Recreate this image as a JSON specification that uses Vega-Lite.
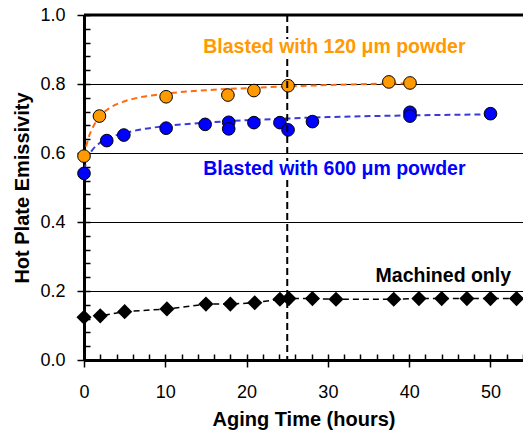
{
  "$schema": "https://vega.github.io/schema/vega-lite/v6.json",
  "width": 439,
  "height": 345,
  "autosize": {"type": "none"},
  "padding": {"left": 84, "top": 15, "right": 0, "bottom": 71},
  "background": "white",
  "config": {"view": {"stroke": null}, "font": "Liberation Sans"},
  "datasets": {
    "pts": [
      {"series": "120", "t": 0, "e": 0.591},
      {"series": "120", "t": 1.9, "e": 0.707},
      {"series": "120", "t": 10.1, "e": 0.763},
      {"series": "120", "t": 17.7, "e": 0.768},
      {"series": "120", "t": 20.9, "e": 0.781},
      {"series": "120", "t": 25.1, "e": 0.795},
      {"series": "120", "t": 37.5, "e": 0.806},
      {"series": "120", "t": 40.1, "e": 0.803},
      {"series": "600", "t": 0, "e": 0.541},
      {"series": "600", "t": 2.8, "e": 0.636},
      {"series": "600", "t": 4.9, "e": 0.652},
      {"series": "600", "t": 10.1, "e": 0.672},
      {"series": "600", "t": 14.9, "e": 0.683},
      {"series": "600", "t": 17.8, "e": 0.689},
      {"series": "600", "t": 17.8, "e": 0.67},
      {"series": "600", "t": 20.9, "e": 0.688},
      {"series": "600", "t": 24.1, "e": 0.688},
      {"series": "600", "t": 25.1, "e": 0.667},
      {"series": "600", "t": 28.1, "e": 0.691},
      {"series": "600", "t": 40.1, "e": 0.718},
      {"series": "600", "t": 40.1, "e": 0.707},
      {"series": "600", "t": 50, "e": 0.714}
    ],
    "mach": [
      {"t": 0, "e": 0.124},
      {"t": 2, "e": 0.128},
      {"t": 5, "e": 0.14},
      {"t": 10.2, "e": 0.148},
      {"t": 15, "e": 0.162},
      {"t": 18, "e": 0.162},
      {"t": 21, "e": 0.166},
      {"t": 24.1, "e": 0.176},
      {"t": 25.2, "e": 0.178},
      {"t": 28.1, "e": 0.178},
      {"t": 31, "e": 0.176},
      {"t": 38.1, "e": 0.176},
      {"t": 41.2, "e": 0.178},
      {"t": 44, "e": 0.178},
      {"t": 47.1, "e": 0.178},
      {"t": 50, "e": 0.178},
      {"t": 53.2, "e": 0.178}
    ],
    "fit120": [
      {"t": 0, "e": 0.59},
      {"t": 0.5, "e": 0.64},
      {"t": 1, "e": 0.67},
      {"t": 2, "e": 0.707},
      {"t": 3, "e": 0.728},
      {"t": 5, "e": 0.75},
      {"t": 7.5, "e": 0.764},
      {"t": 10, "e": 0.772},
      {"t": 15, "e": 0.782},
      {"t": 20, "e": 0.788},
      {"t": 25, "e": 0.793},
      {"t": 30, "e": 0.797},
      {"t": 35, "e": 0.8},
      {"t": 40, "e": 0.802}
    ],
    "fit600": [
      {"t": 0, "e": 0.55},
      {"t": 0.5, "e": 0.588},
      {"t": 1, "e": 0.608},
      {"t": 2, "e": 0.63},
      {"t": 3, "e": 0.643},
      {"t": 5, "e": 0.658},
      {"t": 7.5, "e": 0.67},
      {"t": 10, "e": 0.678},
      {"t": 15, "e": 0.688},
      {"t": 20, "e": 0.695},
      {"t": 25, "e": 0.7},
      {"t": 30, "e": 0.704},
      {"t": 40, "e": 0.709},
      {"t": 50, "e": 0.712}
    ],
    "labels": [
      {"series": "120", "text": "Blasted with 120 μm powder", "t": 30.8, "e": 0.891},
      {"series": "600", "text": "Blasted with 600 μm powder", "t": 30.8, "e": 0.535},
      {"series": "mach", "text": "Machined only", "t": 44.2, "e": 0.227}
    ],
    "one": [{}]
  },
  "resolve": {"axis": {"x": "independent", "y": "independent"}},
  "layer": [
    {
      "data": {"name": "mach"},
      "mark": {"type": "point", "opacity": 0},
      "encoding": {
        "x": {"field": "t", "type": "quantitative", "scale": {"domain": [0, 54]},
          "axis": {"orient": "bottom", "values": [0, 10, 20, 30, 40, 50], "tickSize": 7, "tickWidth": 1.5, "tickColor": "black",
            "domain": true, "domainWidth": 3, "domainColor": "black", "grid": false,
            "labelFontSize": 18, "labelColor": "black", "labelPadding": 16, "labelFlush": false,
            "title": "Aging Time (hours)", "titleFontSize": 20, "titleFontWeight": "bold", "titleColor": "black", "titlePadding": 8}},
        "y": {"field": "e", "type": "quantitative", "scale": {"domain": [0, 1]},
          "axis": {"orient": "left", "values": [0, 0.2, 0.4, 0.6, 0.8, 1.0], "format": ".1f", "tickSize": 7, "tickWidth": 1.5, "tickColor": "black",
            "domain": true, "domainWidth": 3, "domainColor": "black", "grid": true, "gridColor": "black", "gridWidth": 1.2, "gridOpacity": 1,
            "labelFontSize": 18, "labelColor": "black", "labelPadding": 12, "labelFlush": false,
            "title": "Hot Plate Emissivity", "titleFontSize": 20, "titleFontWeight": "bold", "titleColor": "black", "titlePadding": 7}}
      }
    },
    {
      "data": {"name": "mach"},
      "mark": {"type": "point", "opacity": 0},
      "encoding": {
        "x": {"field": "t", "type": "quantitative", "scale": {"domain": [0, 54]},
          "axis": {"orient": "top", "offset": -345, "values": [0, 2, 4, 6, 8, 10, 12, 14, 16, 18, 20, 22, 24, 26, 28, 30, 32, 34, 36, 38, 40, 42, 44, 46, 48, 50, 52, 54],
            "tickSize": 6, "tickWidth": 1.5, "tickColor": "black", "labels": false, "domain": false, "grid": false, "title": null}},
        "y": {"field": "e", "type": "quantitative", "scale": {"domain": [0, 1]},
          "axis": {"orient": "right", "offset": -439, "values": [0, 0.04, 0.08, 0.12, 0.16, 0.2, 0.24, 0.28, 0.32, 0.36, 0.4, 0.44, 0.48, 0.52, 0.56, 0.6, 0.64, 0.68, 0.72, 0.76, 0.8, 0.84, 0.88, 0.92, 0.96, 1.0],
            "tickSize": 6, "tickWidth": 1.5, "tickColor": "black", "labels": false, "domain": false, "grid": false, "title": null}}
      }
    },
    {
      "data": {"name": "one"},
      "mark": {"type": "rule", "color": "black", "strokeWidth": 3},
      "encoding": {"y": {"datum": 1, "type": "quantitative", "scale": {"domain": [0, 1]}, "axis": null}}
    },
    {
      "data": {"name": "mach"},
      "mark": {"type": "line", "color": "black", "strokeWidth": 1.5, "strokeDash": [6, 4]},
      "encoding": {
        "x": {"field": "t", "type": "quantitative", "scale": {"domain": [0, 54]}, "axis": null},
        "y": {"field": "e", "type": "quantitative", "scale": {"domain": [0, 1]}, "axis": null},
        "order": {"field": "t"}
      }
    },
    {
      "data": {"name": "fit120"},
      "mark": {"type": "line", "color": "#ff6a10", "strokeWidth": 2, "strokeDash": [6, 4], "interpolate": "monotone"},
      "encoding": {
        "x": {"field": "t", "type": "quantitative", "scale": {"domain": [0, 54]}, "axis": null},
        "y": {"field": "e", "type": "quantitative", "scale": {"domain": [0, 1]}, "axis": null}
      }
    },
    {
      "data": {"name": "fit600"},
      "mark": {"type": "line", "color": "#3a3ad4", "strokeWidth": 2, "strokeDash": [6, 4], "interpolate": "monotone"},
      "encoding": {
        "x": {"field": "t", "type": "quantitative", "scale": {"domain": [0, 54]}, "axis": null},
        "y": {"field": "e", "type": "quantitative", "scale": {"domain": [0, 1]}, "axis": null}
      }
    },
    {
      "data": {"name": "mach"},
      "mark": {"type": "point", "shape": "diamond", "filled": true, "color": "black", "size": 230, "opacity": 1},
      "encoding": {
        "x": {"field": "t", "type": "quantitative", "scale": {"domain": [0, 54]}, "axis": null},
        "y": {"field": "e", "type": "quantitative", "scale": {"domain": [0, 1]}, "axis": null}
      }
    },
    {
      "data": {"name": "pts"},
      "mark": {"type": "point", "shape": "circle", "filled": true, "size": 160, "stroke": "black", "strokeWidth": 1, "opacity": 1},
      "encoding": {
        "x": {"field": "t", "type": "quantitative", "scale": {"domain": [0, 54]}, "axis": null},
        "y": {"field": "e", "type": "quantitative", "scale": {"domain": [0, 1]}, "axis": null},
        "fill": {"field": "series", "type": "nominal", "scale": {"domain": ["120", "600"], "range": ["#ff9a00", "#0000ff"]}, "legend": null}
      }
    },
    {
      "data": {"name": "one"},
      "mark": {"type": "rule", "color": "black", "strokeWidth": 2, "strokeDash": [7, 4]},
      "encoding": {"x": {"datum": 25, "type": "quantitative", "scale": {"domain": [0, 54]}, "axis": null}}
    },
    {
      "data": {"name": "labels"},
      "mark": {"type": "text", "fontWeight": "bold", "align": "center", "baseline": "alphabetic", "stroke": "white", "strokeWidth": 6, "fill": "white"},
      "encoding": {
        "x": {"field": "t", "type": "quantitative", "scale": {"domain": [0, 54]}, "axis": null},
        "y": {"field": "e", "type": "quantitative", "scale": {"domain": [0, 1]}, "axis": null},
        "text": {"field": "text"},
        "size": {"field": "series", "type": "nominal", "scale": {"domain": ["120", "600", "mach"], "range": [19.5, 19.5, 17.5]}, "legend": null}
      }
    },
    {
      "data": {"name": "labels"},
      "mark": {"type": "text", "fontWeight": "bold", "align": "center", "baseline": "alphabetic"},
      "encoding": {
        "x": {"field": "t", "type": "quantitative", "scale": {"domain": [0, 54]}, "axis": null},
        "y": {"field": "e", "type": "quantitative", "scale": {"domain": [0, 1]}, "axis": null},
        "text": {"field": "text"},
        "color": {"field": "series", "type": "nominal", "scale": {"domain": ["120", "600", "mach"], "range": ["#ff9a00", "#0000ff", "black"]}, "legend": null},
        "size": {"field": "series", "type": "nominal", "scale": {"domain": ["120", "600", "mach"], "range": [19.5, 19.5, 17.5]}, "legend": null}
      }
    }
  ]
}
